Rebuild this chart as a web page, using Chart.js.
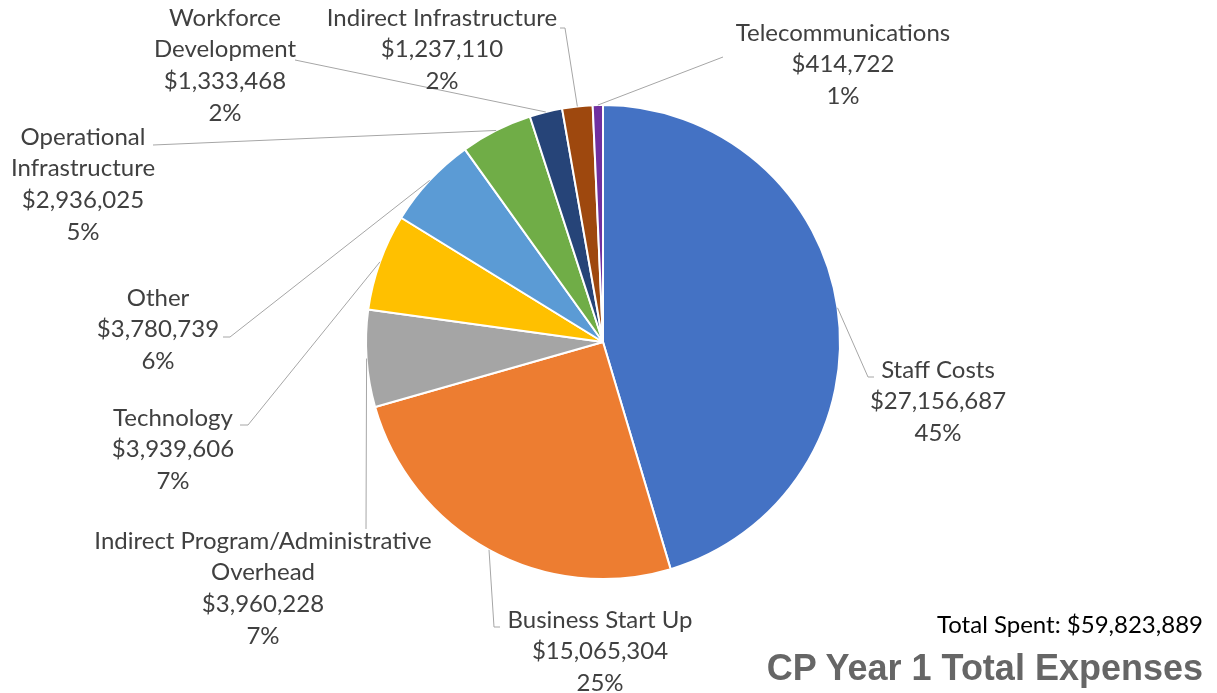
<!DOCTYPE html>
<html>
<head>
<meta charset="utf-8">
<script src="https://cdn.jsdelivr.net/npm/chart.js@4"></script>
<style>
  body { margin: 0; background: #fff; }
  .wrap { position: relative; width: 1217px; height: 693px; }
  #total {
    position: absolute; right: 14px; top: 609px;
    font: 24px Lato, sans-serif; color: #000;
  }
  #title {
    position: absolute; right: 14px; top: 647px;
    font: bold 36px "Liberation Sans", Arial, sans-serif; color: #666;
  }
</style>
</head>
<body>
<div class="wrap">
  <canvas id="expenses-chart" width="1217" height="693"></canvas>
  <div id="total">Total Spent: $59,823,889</div>
  <div id="title">CP Year 1 Total Expenses</div>
</div>
<script>
// data
const categories = [
  ["Staff Costs"],
  ["Business Start Up"],
  ["Indirect Program/Administrative", "Overhead"],
  ["Technology"],
  ["Other"],
  ["Operational", "Infrastructure"],
  ["Workforce", "Development"],
  ["Indirect Infrastructure"],
  ["Telecommunications"],
];
const amounts = [27156687, 15065304, 3960228, 3939606, 3780739, 2936025, 1333468, 1237110, 414722];
const sliceColors = ["#4472C4", "#ED7D31", "#A5A5A5", "#FFC000", "#5B9BD5", "#70AD47", "#264478", "#9E480E", "#7030A0"];

// where each label sits and the bends of its leader line (ends on the slice)
const labelSpots = [
  { x: 938, y: 370, line: [[874, 377], [868, 377]] },
  { x: 600, y: 620, line: [[500, 627], [494, 627]] },
  { x: 263, y: 541, line: [[366, 529]] },
  { x: 173, y: 418, line: [[240, 425], [248, 425]] },
  { x: 158, y: 298, line: [[223, 337], [230, 337]] },
  { x: 83, y: 137, line: [[153, 145]] },
  { x: 225, y: 18, line: [[295, 60]] },
  { x: 442, y: 18, line: [[560, 28], [565, 28]] },
  { x: 843, y: 33, line: [[723, 57]] },
];

const total = amounts.reduce((a, b) => a + b, 0);
const lineHeight = 31.6;

const labelPlugin = {
  id: "pieLabels",
  afterDraw(chart) {
    const ctx = chart.ctx;
    const arcs = chart.getDatasetMeta(0).data;
    ctx.save();
    arcs.forEach((arc, i) => {
      const spot = labelSpots[i];
      const mid = (arc.startAngle + arc.endAngle) / 2;
      const ex = arc.x + Math.cos(mid) * arc.outerRadius;
      const ey = arc.y + Math.sin(mid) * arc.outerRadius;

      // leader line
      ctx.strokeStyle = "#A6A6A6";
      ctx.lineWidth = 1;
      ctx.beginPath();
      ctx.moveTo(spot.line[0][0], spot.line[0][1]);
      spot.line.slice(1).forEach((p) => ctx.lineTo(p[0], p[1]));
      ctx.lineTo(ex, ey);
      ctx.stroke();

      // text
      const lines = categories[i].concat([
        "$" + amounts[i].toLocaleString("en-US"),
        Math.round((amounts[i] / total) * 100) + "%",
      ]);
      ctx.fillStyle = "#404040";
      ctx.font = "24px Lato, sans-serif";
      ctx.textAlign = "center";
      ctx.textBaseline = "middle";
      lines.forEach((t, k) => {
        ctx.fillText(t, spot.x, spot.y + k * lineHeight);
      });
    });
    ctx.restore();
  },
};

const expensesCanvas = document.getElementById("expenses-chart");

let expensesChart = new Chart(expensesCanvas, {
  type: "pie",
  data: {
    labels: categories,
    datasets: [
      {
        data: amounts,
        backgroundColor: sliceColors,
        borderColor: "#ffffff",
        borderWidth: 2,
      },
    ],
  },
  options: {
    responsive: false,
    animation: false,
    layout: {
      padding: { left: 365, right: 376, top: 104, bottom: 113 },
    },
    plugins: {
      legend: { display: false },
      tooltip: { enabled: false },
    },
  },
  plugins: [labelPlugin],
});
</script>
</body>
</html>
